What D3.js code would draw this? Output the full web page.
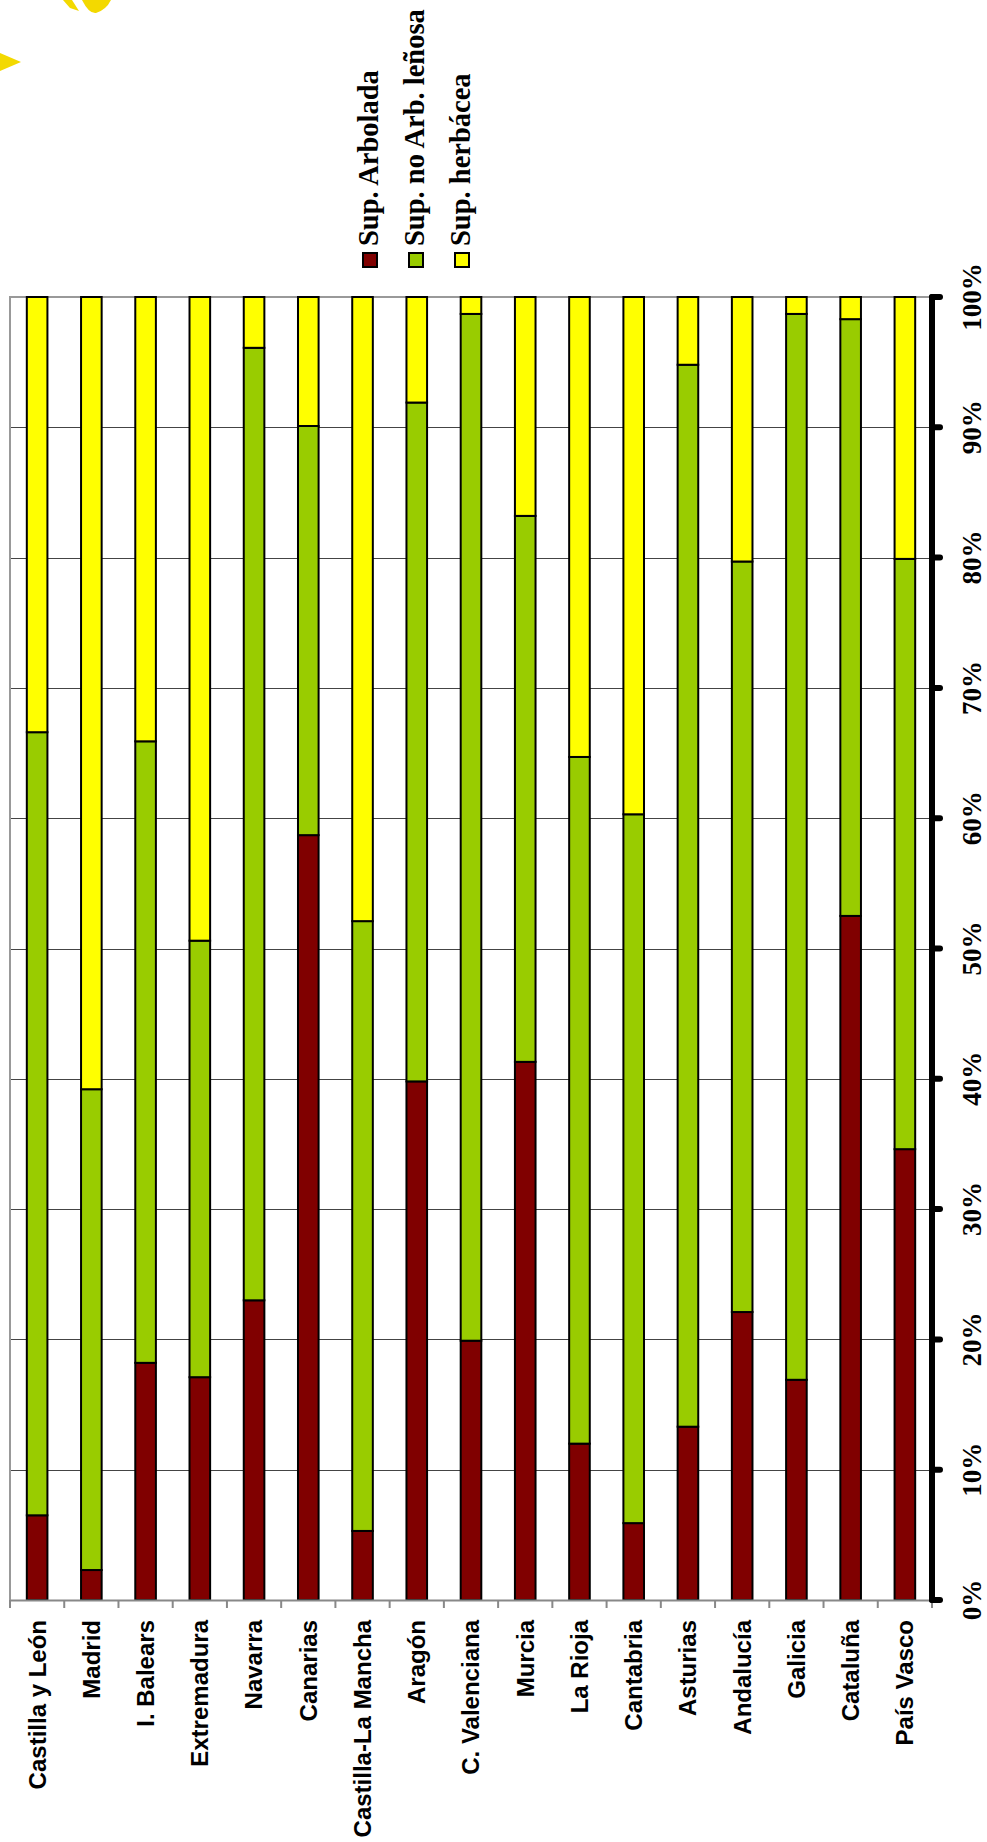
<!DOCTYPE html>
<html>
<head>
<meta charset="utf-8">
<script src="https://cdn.jsdelivr.net/npm/d3@7"></script>
<style>
  html, body { margin: 0; padding: 0; background: #fff; }
  svg { display: block; }
</style>
</head>
<body>
<script>
const categories = ["Castilla y León","Madrid","I. Balears","Extremadura","Navarra","Canarias","Castilla-La Mancha","Aragón","C. Valenciana","Murcia","La Rioja","Cantabria","Asturias","Andalucía","Galicia","Cataluña","País Vasco"];
const arbolada    = [6.5, 2.3, 18.2, 17.1, 23.0, 58.7, 5.3, 39.8, 19.9, 41.3, 12.0, 5.9, 13.3, 22.1, 16.9, 52.5, 34.6];
const noArbLenosa = [60.1, 36.9, 47.7, 33.5, 73.1, 31.4, 46.8, 52.1, 78.8, 41.9, 52.7, 54.4, 81.5, 57.6, 81.8, 45.8, 45.3];
const herbacea    = [33.4, 60.8, 34.1, 49.4, 3.9, 9.9, 47.9, 8.1, 1.3, 16.8, 35.3, 39.7, 5.2, 20.3, 1.3, 1.7, 20.1];
const seriesNames = ["Sup. Arbolada", "Sup. no Arb. leñosa", "Sup. herbácea"];
const seriesColors = ["#800000", "#99cc00", "#ffff00"];
const tickValues = [0, 0.1, 0.2, 0.3, 0.4, 0.5, 0.6, 0.7, 0.8, 0.9, 1];
const tickLabels = ["0%","10%","20%","30%","40%","50%","60%","70%","80%","90%","100%"];

(function () {
const W = 987, H = 1842;
const svg = d3.select("body").append("svg").attr("width", W).attr("height", H);

// decorative sun fragments (top-left)
const deco = svg.append("g").attr("fill", "#f3d900");
deco.append("path").attr("d", "M0,53 L21,62 L0,71 Z");
deco.append("path").attr("d", "M63,0 L72,0 L79,11 L70,8 Z");
deco.append("path").attr("d", "M82,0 L111,0 Q106,10 96,13 Q89,14 82,0 Z");

const pL = 10, pR = 932, pT = 297, pB = 1600;

const x = d3.scaleBand().domain(categories).range([pL, pR]).padding(0);
const y = d3.scaleLinear().domain([0, 1]).range([pB, pT]);

const table = categories.map((c, i) => ({cat: c, a: arbolada[i], b: noArbLenosa[i], c: herbacea[i]}));
const stack = d3.stack().keys(["a","b","c"]).offset(d3.stackOffsetExpand);
const stacked = stack(table);

// gridlines
svg.append("g").selectAll("line").data(tickValues.filter(v => v > 0 && v < 1)).join("line")
  .attr("x1", pL).attr("x2", pR)
  .attr("y1", d => Math.round(y(d)) + 0.5).attr("y2", d => Math.round(y(d)) + 0.5)
  .attr("stroke", "#444").attr("stroke-width", 1);

// plot border (left/top)
svg.append("path")
  .attr("d", `M${pL},${pB} L${pL},${pT} L${pR},${pT}`)
  .attr("fill", "none").attr("stroke", "#999").attr("stroke-width", 2);

// bars
const barW = x.bandwidth() * 0.38;
svg.append("g").selectAll("g").data(stacked).join("g")
  .attr("fill", (d, i) => seriesColors[i])
  .selectAll("rect").data(d => d).join("rect")
  .attr("x", d => x(d.data.cat) + x.bandwidth() / 2 - barW / 2)
  .attr("width", barW)
  .attr("y", d => y(d[1]))
  .attr("height", d => y(d[0]) - y(d[1]))
  .attr("stroke", "#000").attr("stroke-width", 2);

// category axis
const xAxis = d3.axisBottom(x).tickSize(8).tickFormat("").tickSizeOuter(0);
const xg = svg.append("g").attr("transform", `translate(0,${pB})`).call(xAxis);
xg.select(".domain").attr("stroke", "#888").attr("stroke-width", 2);
xg.selectAll(".tick line").attr("stroke", "#888").attr("stroke-width", 2)
  .attr("transform", `translate(${-x.bandwidth()/2},0)`);
xg.append("line").attr("x1", pR).attr("x2", pR).attr("y1", 0).attr("y2", 8)
  .attr("stroke", "#888").attr("stroke-width", 2);

svg.append("g").selectAll("text").data(categories).join("text")
  .attr("transform", d => `translate(${x(d) + x.bandwidth()/2},1620) rotate(-90)`)
  .attr("text-anchor", "end")
  .attr("dy", "0.35em")
  .attr("font-family", "'Liberation Sans', Arial, sans-serif")
  .attr("font-weight", "bold")
  .attr("font-size", 24)
  .attr("fill", "#000")
  .text(d => d);

// value axis (right, thick)
const ya = svg.append("g");
ya.append("line").attr("x1", pR).attr("x2", pR).attr("y1", pT).attr("y2", pB)
  .attr("stroke", "#000").attr("stroke-width", 6).attr("stroke-linecap", "round");
ya.selectAll("line.tk").data(tickValues).join("line").attr("class", "tk")
  .attr("x1", pR).attr("x2", pR + 8)
  .attr("y1", d => y(d)).attr("y2", d => y(d))
  .attr("stroke", "#000").attr("stroke-width", 6).attr("stroke-linecap", "round");
ya.selectAll("text").data(tickValues).join("text")
  .attr("transform", d => `translate(981,${y(d)}) rotate(-90)`)
  .attr("text-anchor", "middle")
  .attr("font-family", "'Liberation Serif', 'Times New Roman', serif")
  .attr("font-weight", "bold")
  .attr("font-size", 27)
  .attr("fill", "#000")
  .text((d, i) => tickLabels[i]);

// legend
const lg = svg.append("g");
seriesNames.forEach((name, i) => {
  const bx = 378 + i * 46;
  lg.append("rect").attr("x", bx - 15).attr("y", 253).attr("width", 14).attr("height", 14)
    .attr("fill", seriesColors[i]).attr("stroke", "#000").attr("stroke-width", 2);
  lg.append("text")
    .attr("transform", `translate(${bx},246) rotate(-90)`)
    .attr("text-anchor", "start")
    .attr("font-family", "'Liberation Serif', 'Times New Roman', serif")
    .attr("font-weight", "bold")
    .attr("font-size", 28.5)
    .attr("fill", "#000")
    .text(name);
});
})();
</script>
</body>
</html>
